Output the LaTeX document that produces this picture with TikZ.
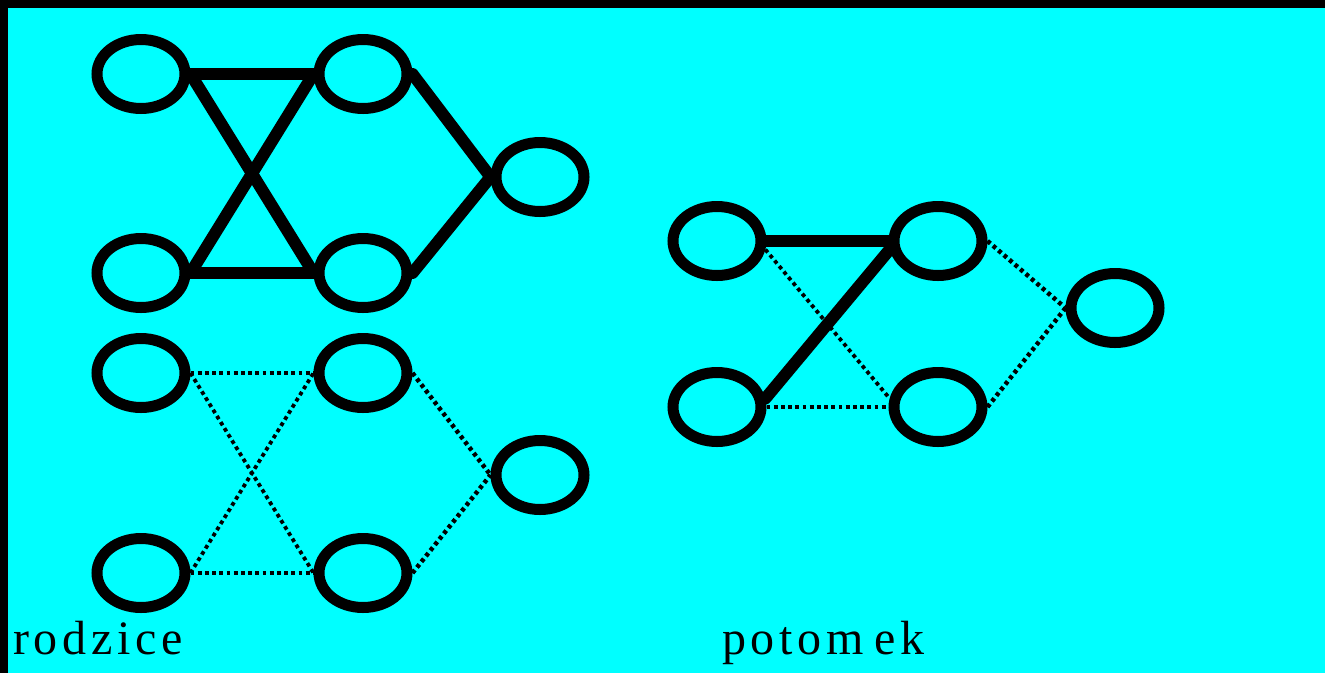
\documentclass[tikz,border=0pt]{standalone}
\usepackage{fontspec}
\setmainfont{Liberation Serif}
\usetikzlibrary{shapes.geometric}
\definecolor{bg}{RGB}{0,255,255}
\tikzset{
  vertex/.style={ellipse, draw=black, line width=11pt, minimum width=88pt, minimum height=69pt, inner sep=0pt},
  solidedge/.style={draw=black, line width=12pt, line cap=round},
  dotedge/.style={draw=black, line width=4.5pt, dash pattern=on 3.8pt off 3.4pt},
  thindot/.style={dotedge, line width=3.8pt},
  label/.style={anchor=base west, inner sep=0pt, font=\fontsize{48}{56}\selectfont\addfontfeatures{LetterSpace=10}}
}
\begin{document}
\begin{tikzpicture}[x=1pt,y=-1pt]
  % frame: black edge along top and left, cyan field
  \fill[black] (0,0) rectangle (1325,673);
  \fill[bg] (8,8) rectangle (1325,673);
  \useasboundingbox (0,0) rectangle (1325,673);

  % first parent (solid)
  \node[vertex] (a1) at (141,74) {};
  \node[vertex] (b1) at (363,74) {};
  \node[vertex] (c1) at (540,177) {};
  \node[vertex] (d1) at (141,273) {};
  \node[vertex] (e1) at (363,273) {};
  \draw[solidedge] (a1.east) -- (b1.west);
  \draw[solidedge] (a1.east) -- (e1.west);
  \draw[solidedge] (d1.east) -- (b1.west);
  \draw[solidedge] (d1.east) -- (e1.west);
  \draw[solidedge] (b1.east) -- (c1.west);
  \draw[solidedge] (e1.east) -- (c1.west);

  % second parent (dotted)
  \node[vertex] (a2) at (141,373) {};
  \node[vertex] (b2) at (363,373) {};
  \node[vertex] (c2) at (540,475) {};
  \node[vertex] (d2) at (141,573) {};
  \node[vertex] (e2) at (363,573) {};
  \draw[dotedge] (a2.east) -- (b2.west);
  \draw[thindot] (a2.east) -- (e2.west);
  \draw[thindot] (d2.east) -- (b2.west);
  \draw[dotedge] (d2.east) -- (e2.west);
  \draw[dotedge] (b2.east) -- (c2.west);
  \draw[dotedge] (e2.east) -- (c2.west);

  % offspring
  \node[vertex] (p1) at (717,241) {};
  \node[vertex] (p2) at (938,241) {};
  \node[vertex] (p3) at (1115,308) {};
  \node[vertex] (p4) at (717,407) {};
  \node[vertex] (p5) at (938,407) {};
  \draw[solidedge] (p1.east) -- (p2.west);
  \draw[solidedge] (p4.10) -- (p2.190);
  \draw[thindot] (p1.-10) -- (p5.170);
  \draw[dotedge] (p4.east) -- (p5.west);
  \draw[dotedge] (p2.east) -- (p3.west);
  \draw[dotedge] (p5.east) -- (p3.west);

  \node[label] (t1) at (13,654) {rodzice};
  \node[label] (t2) at (722,654) {potom\hspace{10pt}ek};
\end{tikzpicture}
\end{document}
